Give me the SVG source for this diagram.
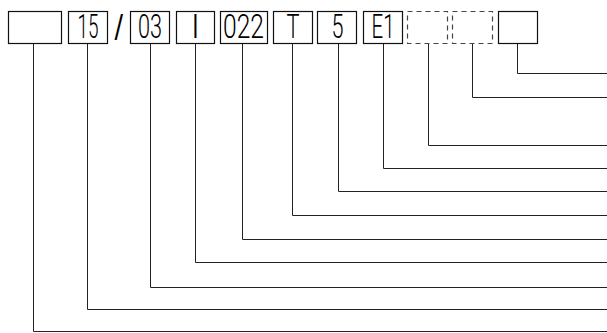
<svg xmlns="http://www.w3.org/2000/svg" width="607" height="333" viewBox="0 0 607 333">
<style>
.box{fill:#fff;stroke:#111;stroke-width:1.2}
.dash{fill:#fff;stroke:#444;stroke-width:1.2;stroke-dasharray:5 4}
.t{font-family:Roboto,"DejaVu Sans",sans-serif;font-weight:300;font-size:33px;fill:#000;text-anchor:middle}
.c{fill:none;stroke:#222;stroke-width:1}
</style>
<rect width="607" height="333" fill="#fff"/>
<g id="connectors">
<polyline class="c" points="517.5,43 517.5,73.5 607,73.5"/>
<polyline class="c" points="472.5,43 472.5,97.5 607,97.5"/>
<polyline class="c" points="428.5,43 428.5,145.5 607,145.5"/>
<polyline class="c" points="383.5,43 383.5,168.5 607,168.5"/>
<polyline class="c" points="338.5,43 338.5,191.5 607,191.5"/>
<polyline class="c" points="292.5,43 292.5,215.5 607,215.5"/>
<polyline class="c" points="242.5,43 242.5,239.5 607,239.5"/>
<polyline class="c" points="195.5,43 195.5,262.5 607,262.5"/>
<polyline class="c" points="150.5,43 150.5,287.5 607,287.5"/>
<polyline class="c" points="87.5,43 87.5,309.5 607,309.5"/>
<polyline class="c" points="33.5,43 33.5,331.5 607,331.5"/>
</g>
<g id="n1"><rect class="box" x="8.5" y="11.5" width="53" height="32"/></g>
<g id="n2"><rect class="box" x="68.5" y="11.5" width="39" height="32"/><text class="t" x="88" y="37.5" textLength="21" lengthAdjust="spacingAndGlyphs">15</text></g>
<g id="slash"><text class="t" x="119" y="37.5" style="font-weight:500" textLength="9" lengthAdjust="spacingAndGlyphs">/</text></g>
<g id="n3"><rect class="box" x="130.5" y="11.5" width="39" height="32"/><text class="t" x="150" y="37.5" textLength="24" lengthAdjust="spacingAndGlyphs">03</text></g>
<g id="n4"><rect class="box" x="176.5" y="11.5" width="38" height="32"/><text class="t" x="195.5" y="37.5">I</text></g>
<g id="n5"><rect class="box" x="220.5" y="11.5" width="47" height="32"/><text class="t" x="243.5" y="37.5" textLength="41" lengthAdjust="spacingAndGlyphs">022</text></g>
<g id="n6"><rect class="box" x="273.5" y="11.5" width="39" height="32"/><text class="t" x="293" y="37.5" textLength="13" lengthAdjust="spacingAndGlyphs">T</text></g>
<g id="n7"><rect class="box" x="317.5" y="11.5" width="39" height="32"/><text class="t" x="337.5" y="37.5" textLength="12" lengthAdjust="spacingAndGlyphs">5</text></g>
<g id="n8"><rect class="box" x="363.5" y="11.5" width="39" height="32"/><text class="t" x="383" y="37.5" textLength="23" lengthAdjust="spacingAndGlyphs">E1</text></g>
<g id="n9"><rect class="dash" x="407.5" y="11.5" width="40" height="32"/></g>
<g id="n10"><rect class="dash" x="452.5" y="11.5" width="40" height="32"/></g>
<g id="n11"><rect class="box" x="498.5" y="11.5" width="39" height="32"/></g>
</svg>
